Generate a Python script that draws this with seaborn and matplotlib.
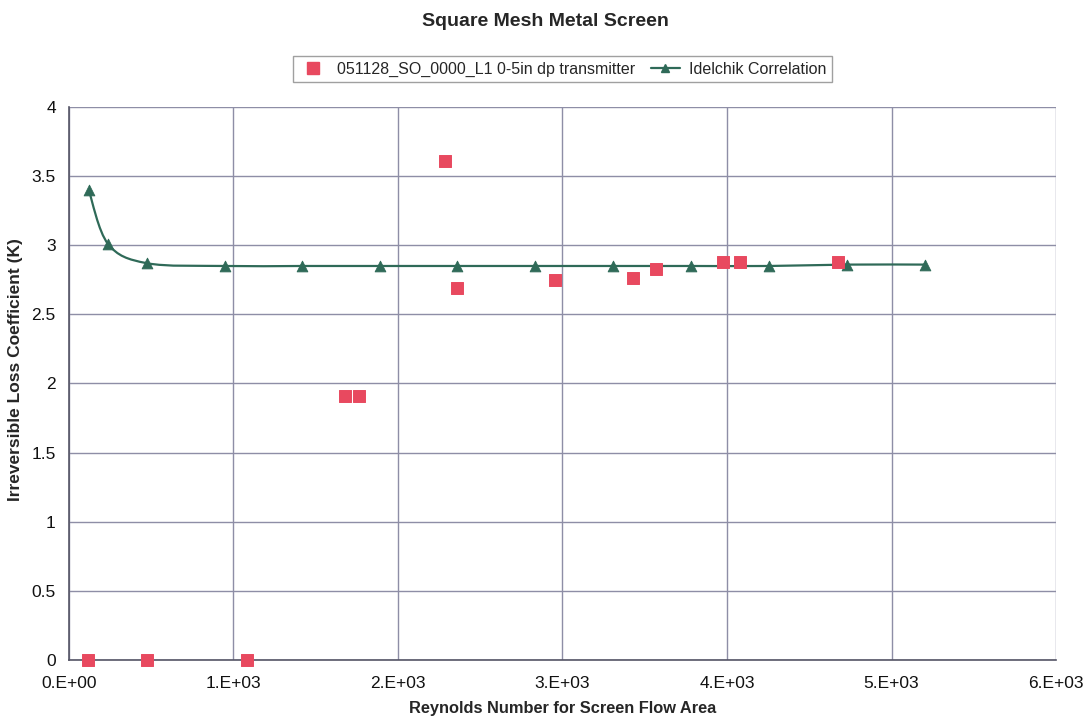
import numpy as np
import pandas as pd
import matplotlib
matplotlib.use("Agg")
import matplotlib.pyplot as plt
import seaborn as sns
from matplotlib.path import Path
from matplotlib.patches import PathPatch
from matplotlib.ticker import FuncFormatter, MultipleLocator

# Measured data (transmitter)
meas_re = [115, 474, 1082, 1678, 1763, 2286, 2359, 2954, 3429, 3568, 3976, 4079, 4675]
meas_k = [0.0, 0.0, 0.0, 1.91, 1.91, 3.61, 2.69, 2.75, 2.76, 2.83, 2.88, 2.88, 2.88]

# Idelchik correlation
corr_re = [120, 237, 474, 948, 1416, 1891, 2359, 2833, 3307, 3781, 4255, 4730, 5204]
corr_k = [3.40, 3.01, 2.87, 2.85, 2.85, 2.85, 2.85, 2.85, 2.85, 2.85, 2.85, 2.86, 2.86]

meas_label = "051128_SO_0000_L1 0-5in dp transmitter"
corr_label = "Idelchik Correlation"

meas = pd.DataFrame({"Re": meas_re, "K": meas_k})
corr = pd.DataFrame({"Re": corr_re, "K": corr_k})

sns.set_theme(style="white")
plt.rcParams["font.family"] = ["Liberation Sans", "DejaVu Sans"]

fig = plt.figure(figsize=(10.88, 7.22), dpi=100)
ax = fig.add_axes([0.0634, 0.0859, 0.9072, 0.7659])

line_col = "#2f6a58"
sq_col = "#e8495f"

# smoothed connecting curve (Excel-style smoothed line, drawn as bezier path)
x = np.array(corr_re, dtype=float)
y = np.array(corr_k, dtype=float)
verts = [(x[0], y[0])]
codes = [Path.MOVETO]
t = 1.0 / 6.0
for i in range(len(x) - 1):
    p0 = (x[i - 1], y[i - 1]) if i > 0 else (x[i], y[i])
    p3 = (x[i + 2], y[i + 2]) if i + 2 < len(x) else (x[i + 1], y[i + 1])
    c1 = (x[i] + (x[i + 1] - p0[0]) * t, y[i] + (y[i + 1] - p0[1]) * t)
    c2 = (x[i + 1] - (p3[0] - x[i]) * t, y[i + 1] - (p3[1] - y[i]) * t)
    verts += [c1, c2, (x[i + 1], y[i + 1])]
    codes += [Path.CURVE4] * 3
ax.add_patch(PathPatch(Path(verts, codes), facecolor="none", edgecolor=line_col, lw=1.6, zorder=3))

sns.scatterplot(data=corr, x="Re", y="K", marker="^", s=60, color=line_col,
                edgecolor=line_col, ax=ax, zorder=4)
sns.scatterplot(data=meas, x="Re", y="K", marker="s", s=75, color=sq_col,
                edgecolor=sq_col, ax=ax, zorder=5, clip_on=False)

ax.set_xlim(0, 6000)
ax.set_ylim(0, 4)
ax.xaxis.set_major_locator(MultipleLocator(1000))
ax.yaxis.set_major_locator(MultipleLocator(0.5))


def sci_fmt(v, pos):
    if v == 0:
        return "0.E+00"
    e = int(np.floor(np.log10(abs(v))))
    return f"{int(round(v / 10 ** e))}.E+{e:02d}"


ax.xaxis.set_major_formatter(FuncFormatter(sci_fmt))
ax.yaxis.set_major_formatter(FuncFormatter(lambda v, p: f"{v:g}"))

ax.grid(True, color="#8e8ea6", lw=1.0)
for s in ["top", "right"]:
    ax.spines[s].set_visible(False)
for s in ["left", "bottom"]:
    ax.spines[s].set_color("#555566")
    ax.spines[s].set_linewidth(1.2)
ax.tick_params(axis="both", direction="inout", length=7, width=1, color="#555566",
               labelsize=12.5, colors="#111111", pad=6)
ax.tick_params(axis="x", pad=8)

ax.set_xlabel("Reynolds Number for Screen Flow Area", fontsize=11.8, fontweight="bold", labelpad=7)
ax.set_ylabel("Irreversible Loss Coefficient (K)", fontsize=12.5, fontweight="bold")
ax.yaxis.set_label_coords(-0.047, 0.525)
fig.suptitle("Square Mesh Metal Screen", x=0.501, y=0.982, fontsize=14, fontweight="bold")

h1 = plt.Line2D([], [], marker="s", ls="none", color=sq_col, markersize=8)
h2 = plt.Line2D([], [], marker="^", color=line_col, lw=1.6, markersize=6)
leg = ax.legend([h1, h2], [meas_label, corr_label], loc="lower center",
                bbox_to_anchor=(0.5, 1.03), ncol=2, frameon=True, fancybox=False,
                fontsize=11.5, handlelength=1.8, columnspacing=1.0, handletextpad=0.6,
                borderpad=0.35, edgecolor="#888888")
leg.get_frame().set_linewidth(1.0)

fig.savefig("out.png", dpi=100, facecolor="white")
